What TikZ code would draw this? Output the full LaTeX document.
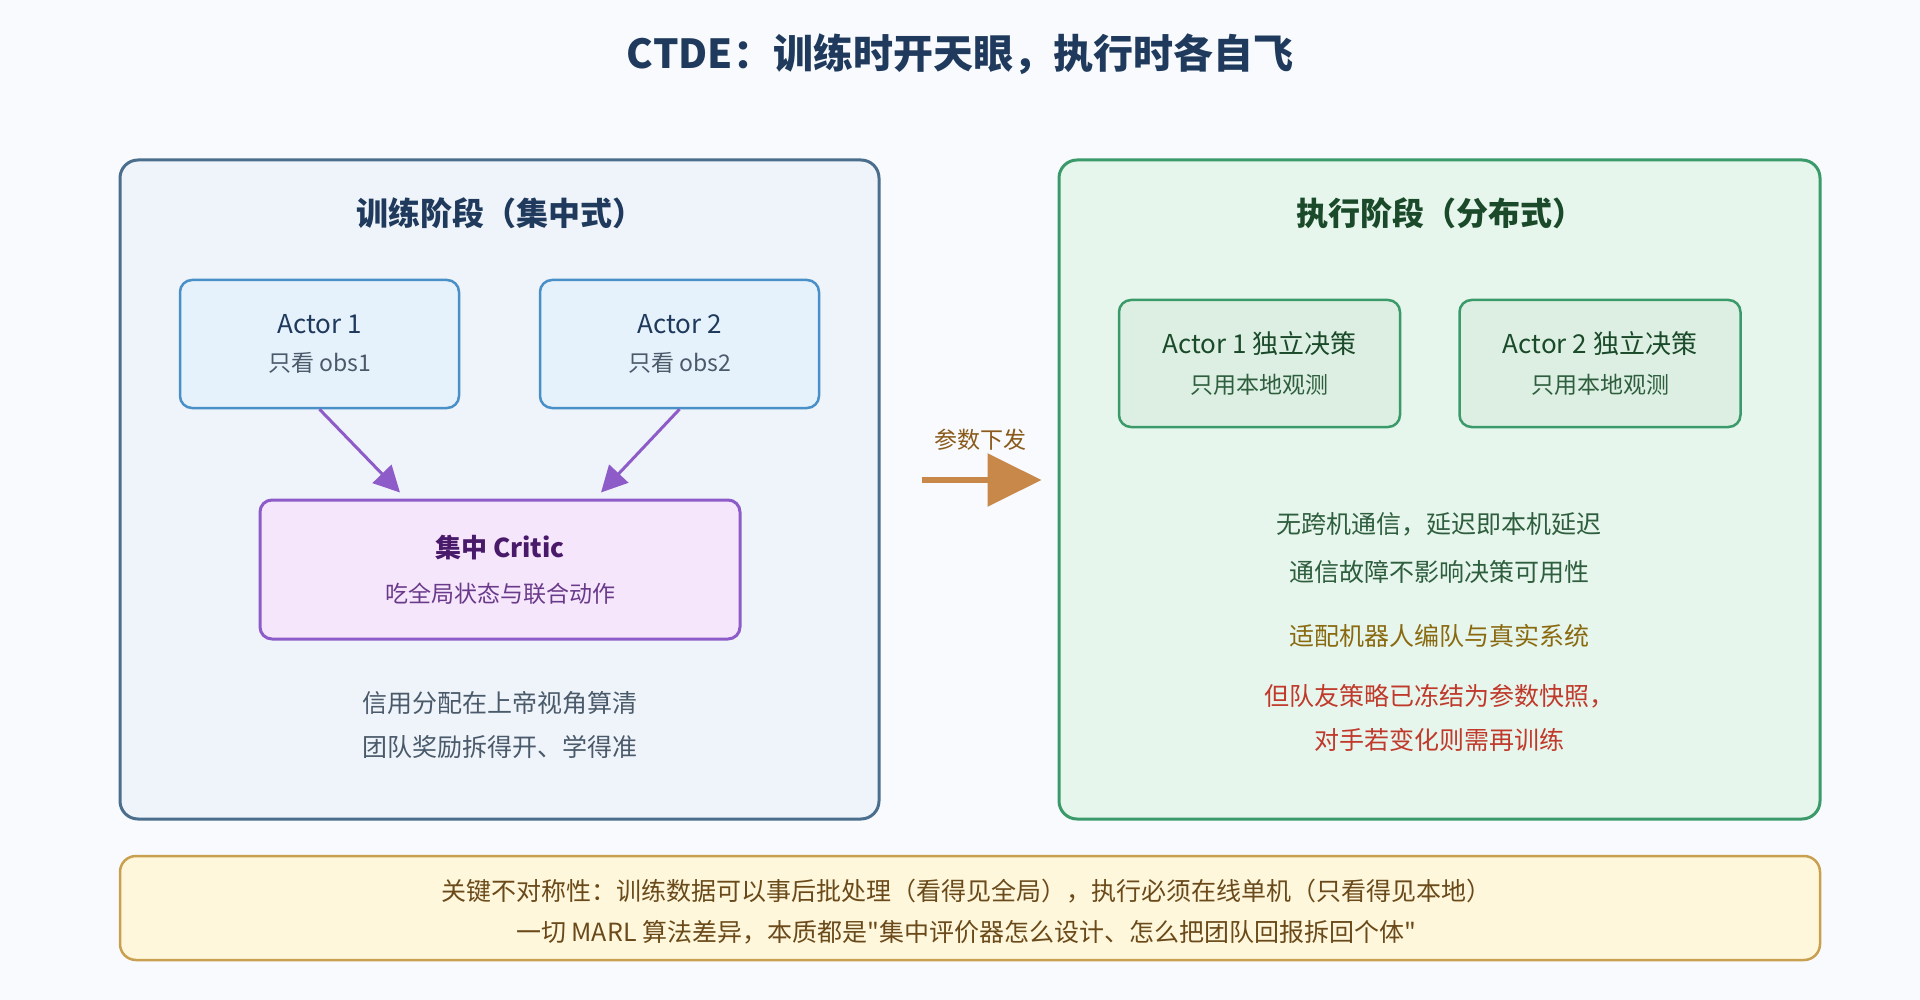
\documentclass[tikz,border=0pt]{standalone}
\usepackage{fontspec}
\setmainfont{Noto Sans CJK SC}[Ligatures=TeXOff]
\usetikzlibrary{arrows.meta}

\definecolor{navy}{HTML}{1F3A5C}
\definecolor{pagebg}{HTML}{F8FAFD}
\definecolor{trainline}{HTML}{4A6E8C}
\definecolor{trainfill}{HTML}{EFF4FA}
\definecolor{actline}{HTML}{4A90C8}
\definecolor{actfill}{HTML}{E6F2FB}
\definecolor{critline}{HTML}{8E5CC8}
\definecolor{critfill}{HTML}{F5E6FB}
\definecolor{critdark}{HTML}{4A1A6A}
\definecolor{critsub}{HTML}{6A3A8A}
\definecolor{execline}{HTML}{3A9A6A}
\definecolor{execfill}{HTML}{E6F6EC}
\definecolor{eactfill}{HTML}{DCEFE2}
\definecolor{execdark}{HTML}{1A4A2A}
\definecolor{exectext}{HTML}{2E5E3E}
\definecolor{greytext}{HTML}{4A5A6A}
\definecolor{goldtext}{HTML}{8A6A10}
\definecolor{redtext}{HTML}{C0392B}
\definecolor{noteline}{HTML}{C8A050}
\definecolor{notefill}{HTML}{FFF7DC}
\definecolor{notetext}{HTML}{6A4A1A}
\definecolor{pushc}{HTML}{C8884A}
\definecolor{pushtext}{HTML}{8A5A1A}

\newcommand{\fs}[1]{\fontsize{#1}{#1}\selectfont}

\begin{document}
\begin{tikzpicture}[x=1pt,y=-1pt,
    panel/.style={draw,line width=3pt,rounded corners=18pt,minimum width=759pt,minimum height=659pt},
    actorbox/.style={draw=actline,fill=actfill,line width=2.5pt,rounded corners=12pt,
      minimum width=279pt,minimum height=128pt,align=center,text=navy},
    eactorbox/.style={actorbox,draw=execline,fill=eactfill,text=execdark},
    flow/.style={draw=critline,line width=3pt,-{Triangle[length=26pt,width=26pt]}},
    body/.style={font=\fs{25}}]
    \fill[pagebg] (0,0) rectangle (1920,1000);

    \node[font=\fs{40}\bfseries,text=navy] (title) at (960,54) {CTDE：训练时开天眼，执行时各自飞};

    % training side
    \node[panel,draw=trainline,fill=trainfill] (train) at (499.5,489.5) {};
    \node[font=\fs{32}\bfseries,text=navy] (traintitle) at (500,213) {训练阶段（集中式）};
    \node[actorbox] (act1) at (319.5,344) {\fs{26}Actor 1\\[18pt]{\fs{23}\color{greytext}只看 obs1}};
    \node[actorbox] (act2) at (679.5,344) {\fs{26}Actor 2\\[18pt]{\fs{23}\color{greytext}只看 obs2}};
    \node[draw=critline,fill=critfill,line width=3pt,rounded corners=12pt,minimum width=480pt,
      minimum height=139pt,align=center] (critic) at (500,569.5)
      {\fs{26}\bfseries\color{critdark}集中 Critic\\[22pt]{\fs{23}\mdseries\color{critsub}吃全局状态与联合动作}};
    \draw[flow] (act1.south) -- ([xshift=-100pt,yshift=6pt]critic.north);
    \draw[flow] (act2.south) -- ([xshift=101pt,yshift=6pt]critic.north);
    \node[body,text=greytext] (credit) at (500,703) {信用分配在上帝视角算清};
    \node[body,text=greytext] (split) at (500,747) {团队奖励拆得开、学得准};

    % parameters pushed over
    \node[panel,draw=execline,fill=execfill,minimum width=761pt] (exec) at (1439.5,489.5) {};
    \draw[pushc,line width=6pt,-{Triangle[length=54pt,width=52pt]}]
      ([xshift=41pt,yshift=9.5pt]train.east) -- ([xshift=-16pt,yshift=9.5pt]exec.west);
    \node[font=\fs{23},text=pushtext] (push) at (980,440) {参数下发};

    % execution side
    \node[font=\fs{32}\bfseries,text=execdark] (exectitle) at (1440,213) {执行阶段（分布式）};
    \node[eactorbox,minimum width=281pt,minimum height=127pt] (eact1) at (1259.5,363.5)
      {\fs{26}Actor 1 独立决策\\[18pt]{\fs{23}\color{exectext}只用本地观测}};
    \node[eactorbox,minimum width=281pt,minimum height=127pt] (eact2) at (1600,363.5)
      {\fs{26}Actor 2 独立决策\\[18pt]{\fs{23}\color{exectext}只用本地观测}};
    \node[body,text=exectext] (nocomm) at (1439,524) {无跨机通信，延迟即本机延迟};
    \node[body,text=exectext] (fault) at (1439,572) {通信故障不影响决策可用性};
    \node[body,text=goldtext] (robot) at (1439,636) {适配机器人编队与真实系统};
    \node[body,text=redtext] (frozen) at (1439,696) {但队友策略已冻结为参数快照，};
    \node[body,text=redtext] (retrain) at (1439,740) {对手若变化则需再训练};

    % key asymmetry
    \node[draw=noteline,fill=notefill,line width=2.5pt,rounded corners=16pt,minimum width=1700pt,
      minimum height=104pt] (note) at (970,908) {};
    \node[body,text=notetext] (note1) at (966,891) {关键不对称性：训练数据可以事后批处理（看得见全局），执行必须在线单机（只看得见本地）};
    \node[body,text=notetext] (note2) at (966,932) {一切 MARL 算法差异，本质都是"集中评价器怎么设计、怎么把团队回报拆回个体"};
\end{tikzpicture}
\end{document}
